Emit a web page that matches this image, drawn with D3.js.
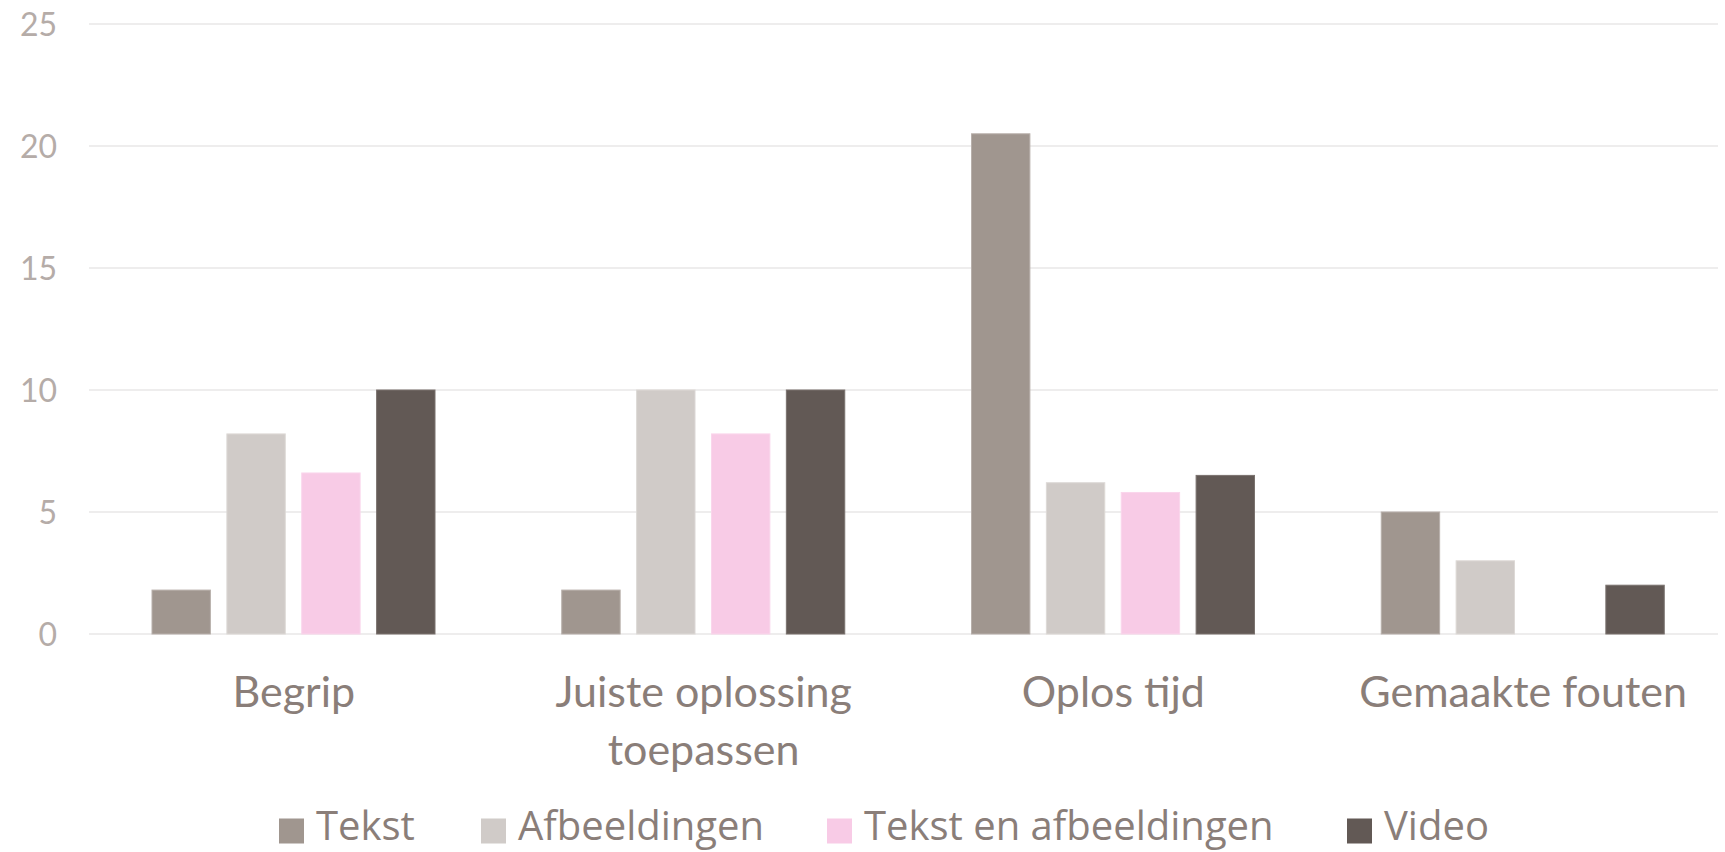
<!DOCTYPE html>
<html><head><meta charset="utf-8">
<script src="https://cdn.jsdelivr.net/npm/d3@7"></script>
<style>html,body{margin:0;padding:0;background:#fff;}</style>
</head><body>
<svg id="chart" width="1725" height="852"></svg>
<script>
const categories = [["Begrip"], ["Juiste oplossing", "toepassen"], ["Oplos tijd"], ["Gemaakte fouten"]];
const seriesNames = ["Tekst", "Afbeeldingen", "Tekst en afbeeldingen", "Video"];
const tekst = [1.8, 1.8, 20.5, 5];
const afbeeldingen = [8.2, 10, 6.2, 3];
const tekstEnAfbeeldingen = [6.6, 8.2, 5.8, 0];
const video = [10, 10, 6.5, 2];
const yTicks = [0, 5, 10, 15, 20, 25];
const colors = ["#a0968f", "#d0cbc8", "#f8cbe6", "#625955"];
const strokes = ["#b8b0ab", "#ddd9d6", "#fad6ec", "#7a726e"];

const series = [tekst, afbeeldingen, tekstEnAfbeeldingen, video];
const svg = d3.select("#chart");
const mLeft = 89, mRight = 1728, mTop = 24, mBottom = 634;

const y = d3.scaleLinear().domain([0, 25]).range([mBottom, mTop]);
const x0 = d3.scaleBand().domain(d3.range(categories.length)).range([mLeft, mRight]).paddingInner(0).paddingOuter(0);
const x1 = d3.scaleBand().domain(d3.range(seriesNames.length)).range([63, 346]).paddingInner(0.22).paddingOuter(0);

// gridlines
svg.append("g").selectAll("line").data(yTicks).join("line")
  .attr("x1", mLeft).attr("x2", 1718)
  .attr("y1", d => y(d)).attr("y2", d => y(d))
  .attr("stroke", "#e9e7e7").attr("stroke-width", 1.6);

// y tick labels
svg.append("g").selectAll("text").data(yTicks).join("text")
  .attr("x", 57).attr("y", d => y(d)).attr("dy", "0.36em")
  .attr("text-anchor", "end")
  .attr("font-family", "Lato, 'Open Sans', sans-serif").attr("font-size", 32)
  .attr("fill", "#b5aca8").text(d => d);

// bars
const groups = svg.append("g").selectAll("g").data(categories).join("g")
  .attr("transform", (d, i) => `translate(${x0(i)},0)`);
groups.selectAll("rect").data((d, i) => series.map((s, k) => ({k, v: s[i]})).filter(e => e.v > 0)).join("rect")
  .attr("x", d => x1(d.k)).attr("width", x1.bandwidth())
  .attr("y", d => y(d.v)).attr("height", d => y(0) - y(d.v))
  .attr("fill", d => colors[d.k]).attr("stroke", d => strokes[d.k]).attr("stroke-width", 1);

// category labels
const cl = svg.append("g").selectAll("text").data(categories).join("text")
  .attr("x", (d, i) => x0(i) + x0.bandwidth() / 2)
  .attr("y", 707)
  .attr("text-anchor", "middle")
  .attr("font-family", "Lato, 'Open Sans', sans-serif").attr("font-size", 43)
  .attr("fill", "#8a7e79");
cl.selectAll("tspan").data(d => d).join("tspan")
  .attr("x", function() { return d3.select(this.parentNode).attr("x"); })
  .attr("dy", (d, j) => j === 0 ? 0 : 58).text(d => d);

// legend
const legX = [279, 481, 827, 1347];
const leg = svg.append("g").selectAll("g").data(seriesNames).join("g")
  .attr("transform", (d, i) => `translate(${legX[i]},831)`);
leg.append("rect").attr("x", 0).attr("y", -12.5).attr("width", 25).attr("height", 25)
  .attr("fill", (d, i) => colors[i]);
leg.append("text").attr("x", 37).attr("y", 9)
  .attr("font-family", "'Open Sans', sans-serif").attr("font-size", 40)
  .attr("fill", "#8a7e79").text(d => d);
</script>
</body></html>
